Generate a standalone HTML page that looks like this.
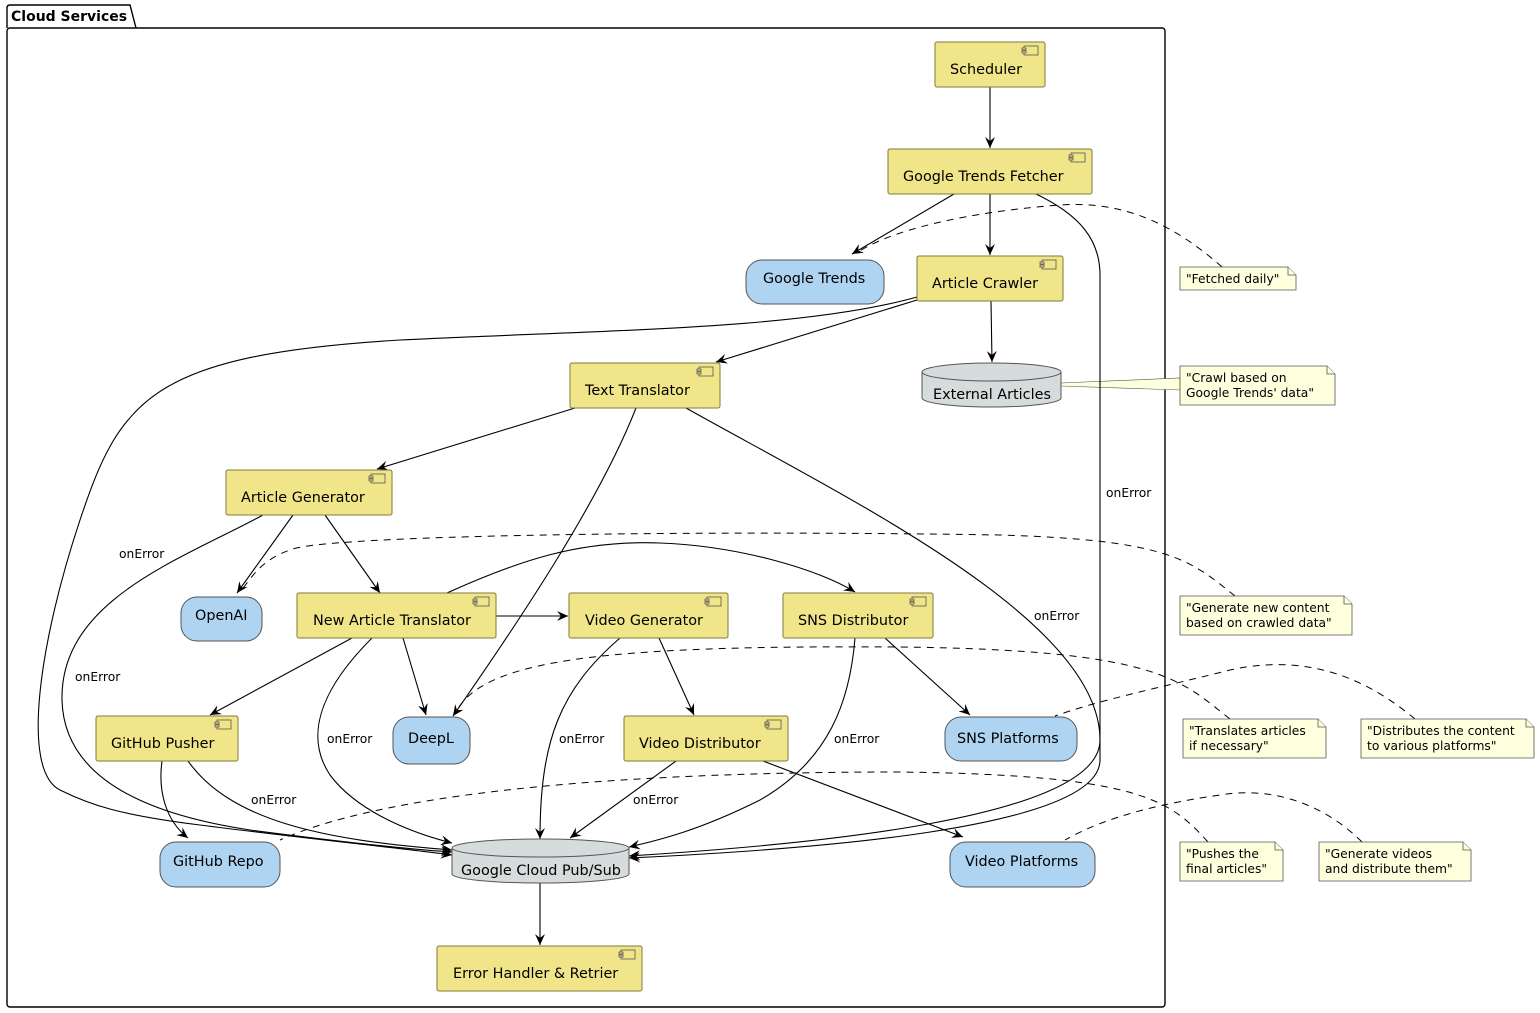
<!DOCTYPE html>
<html><head><meta charset="utf-8"><style>
html,body{margin:0;padding:0;background:#fff}
svg{display:block}
text{font-family:"DejaVu Sans","Liberation Sans",sans-serif}
.c{font-size:14.4px;fill:#000}
.l{font-size:12.3px;fill:#000}
.box{fill:#F1E58A;stroke:#7f7a3a;stroke-width:1}
.cl{fill:#AFD4F1;stroke:#555;stroke-width:1}
.db{fill:#D6DBDB;stroke:#555;stroke-width:1}
.e{fill:none;stroke:#000;stroke-width:1.1}
.d{fill:none;stroke:#000;stroke-width:1;stroke-dasharray:7,6}
.n{fill:#FEFFDD;stroke:#555;stroke-width:0.8}
</style></head><body>
<svg width="1540" height="1013" viewBox="0 0 1540 1013" xmlns="http://www.w3.org/2000/svg">
<defs>
<marker id="a" viewBox="0 0 12 10" refX="11" refY="5" markerWidth="12" markerHeight="10" orient="auto" markerUnits="userSpaceOnUse">
<path d="M0,0 L11,5 L0,10 L4,5 Z" fill="#000"/></marker>
<g id="ico"><rect x="2" y="0" width="14" height="9" fill="none" stroke="#555" stroke-width="0.8"/><rect x="0" y="2" width="4" height="2" fill="#F1E58A" stroke="#555" stroke-width="0.8"/><rect x="0" y="5" width="4" height="2" fill="#F1E58A" stroke="#555" stroke-width="0.8"/></g>
</defs>
<path d="M7,28 L7,8 Q7,5 10,5 L130,5 L136,28" fill="none" stroke="#000" stroke-width="1.4"/>
<rect x="7" y="28" width="1158" height="979" rx="3" fill="none" stroke="#000" stroke-width="1.4"/>
<text x="11" y="21" style="font-size:14px;font-weight:bold">Cloud Services</text>

<path class="d" d="M1222,267 C1180,230 1130,200 1060,205 C990,210 900,225 858,252"/>
<polygon points="1061,383 1180,378 1180,390 1061,386" fill="#FEFFDD" stroke="#555" stroke-width="0.6"/>
<path class="d" d="M1235,596 C1190,560 1170,540 1000,535 C700,530 320,535 290,550 C260,560 250,580 240,592"/>
<path class="d" d="M1230,719 C1180,680 1160,650 900,647 C600,645 480,660 455,714"/>
<path class="d" d="M1415,719 C1380,690 1320,650 1230,670 C1150,690 1100,700 1055,716"/>
<path class="d" d="M1208,842 C1170,800 1140,775 900,772 C600,772 380,795 280,840"/>
<path class="d" d="M1362,842 C1330,810 1280,785 1220,795 C1150,805 1100,820 1065,840"/>

<path class="e" marker-end="url(#a)" d="M990,87 L990,148"/>
<path class="e" marker-end="url(#a)" d="M954,194 L852,254"/>
<path class="e" marker-end="url(#a)" d="M990,194 L990,255"/>
<path class="e" marker-end="url(#a)" d="M1036,194 C1080,215 1100,240 1100,275 L1100,760 C1100,830 800,850 629,858"/>
<text class="l" x="1106" y="497">onError</text>
<path class="e" marker-end="url(#a)" d="M991,301 L992,362"/>
<path class="e" marker-end="url(#a)" d="M917,300 L716,362"/>
<path class="e" marker-end="url(#a)" d="M917,297 C800,330 600,330 400,340 C150,355 120,400 80,520 C40,640 20,770 60,790 C90,805 120,815 200,825 C300,838 400,848 452,855"/>
<text class="l" x="119" y="558">onError</text>
<path class="e" marker-end="url(#a)" d="M575,408 L377,469"/>
<path class="e" marker-end="url(#a)" d="M636,408 C600,500 520,620 453,716"/>
<path class="e" marker-end="url(#a)" d="M686,408 C850,500 1100,620 1100,740 C1100,820 800,845 629,856"/>
<text class="l" x="1034" y="620">onError</text>
<path class="e" marker-end="url(#a)" d="M293,515 L237,593"/>
<path class="e" marker-end="url(#a)" d="M325,515 L380,593"/>
<path class="e" marker-end="url(#a)" d="M263,515 C180,560 60,600 62,700 C64,780 150,815 250,830 C350,843 420,850 452,852"/>
<text class="l" x="75" y="681">onError</text>
<path class="e" marker-end="url(#a)" d="M447,593 C520,560 580,540 660,543 C740,546 820,570 855,592"/>
<path class="e" marker-end="url(#a)" d="M496,616 L568,616"/>
<path class="e" marker-end="url(#a)" d="M352,638 L210,715"/>
<path class="e" marker-end="url(#a)" d="M403,638 L426,715"/>
<path class="e" marker-end="url(#a)" d="M372,638 C330,680 300,730 330,775 C360,815 420,835 452,843"/>
<text class="l" x="327" y="743">onError</text>
<path class="e" marker-end="url(#a)" d="M659,638 L694,715"/>
<path class="e" marker-end="url(#a)" d="M620,638 C560,690 540,740 540,839"/>
<text class="l" x="559" y="743">onError</text>
<path class="e" marker-end="url(#a)" d="M885,638 L970,715"/>
<path class="e" marker-end="url(#a)" d="M855,638 C850,700 830,760 760,800 C700,830 660,840 629,847"/>
<text class="l" x="834" y="743">onError</text>
<path class="e" marker-end="url(#a)" d="M162,761 C158,790 165,820 188,838"/>
<path class="e" marker-end="url(#a)" d="M188,761 C230,820 320,840 452,850"/>
<text class="l" x="251" y="804">onError</text>
<path class="e" marker-end="url(#a)" d="M676,761 L570,838"/>
<text class="l" x="633" y="804">onError</text>
<path class="e" marker-end="url(#a)" d="M763,761 L963,837"/>
<path class="e" marker-end="url(#a)" d="M540,883 L540,945"/>

<rect class="box" x="935" y="42" width="110" height="45" rx="2"/><use href="#ico" x="1022" y="46"/><text class="c" x="950" y="74">Scheduler</text>
<rect class="box" x="888" y="149" width="204" height="45" rx="2"/><use href="#ico" x="1069" y="153"/><text class="c" x="903" y="181">Google Trends Fetcher</text>
<rect class="box" x="917" y="256" width="146" height="45" rx="2"/><use href="#ico" x="1040" y="260"/><text class="c" x="932" y="288">Article Crawler</text>
<rect class="box" x="570" y="363" width="150" height="45" rx="2"/><use href="#ico" x="697" y="367"/><text class="c" x="585" y="395">Text Translator</text>
<rect class="box" x="226" y="470" width="166" height="45" rx="2"/><use href="#ico" x="369" y="474"/><text class="c" x="241" y="502">Article Generator</text>
<rect class="box" x="297" y="593" width="199" height="45" rx="2"/><use href="#ico" x="473" y="597"/><text class="c" x="313" y="625">New Article Translator</text>
<rect class="box" x="569" y="593" width="159" height="45" rx="2"/><use href="#ico" x="705" y="597"/><text class="c" x="585" y="625">Video Generator</text>
<rect class="box" x="783" y="593" width="150" height="45" rx="2"/><use href="#ico" x="910" y="597"/><text class="c" x="798" y="625">SNS Distributor</text>
<rect class="box" x="96" y="716" width="142" height="45" rx="2"/><use href="#ico" x="215" y="720"/><text class="c" x="111" y="748">GitHub Pusher</text>
<rect class="box" x="624" y="716" width="164" height="45" rx="2"/><use href="#ico" x="765" y="720"/><text class="c" x="639" y="748">Video Distributor</text>
<rect class="box" x="437" y="946" width="205" height="45" rx="2"/><use href="#ico" x="619" y="950"/><text class="c" x="453" y="978">Error Handler &amp; Retrier</text>

<rect class="cl" x="746" y="260" width="138" height="44" rx="16"/><text class="c" x="763" y="283">Google Trends</text>
<rect class="cl" x="181" y="597" width="81" height="44" rx="16"/><text class="c" x="195" y="620">OpenAI</text>
<rect class="cl" x="393" y="717" width="77" height="47" rx="16"/><text class="c" x="408" y="743">DeepL</text>
<rect class="cl" x="945" y="717" width="132" height="44" rx="16"/><text class="c" x="957" y="743">SNS Platforms</text>
<rect class="cl" x="160" y="842" width="120" height="45" rx="16"/><text class="c" x="173" y="866">GitHub Repo</text>
<rect class="cl" x="950" y="842" width="145" height="45" rx="16"/><text class="c" x="965" y="866">Video Platforms</text>

<path class="db" d="M922,372 A69.5,9 0 0 1 1061,372 L1061,398 A69.5,9 0 0 1 922,398 Z"/><path class="db" d="M922,372 A69.5,9 0 0 0 1061,372" fill="none"/><text class="c" x="933" y="399">External Articles</text>
<path class="db" d="M452,848 A88.5,9 0 0 1 629,848 L629,874 A88.5,9 0 0 1 452,874 Z"/><path class="db" d="M452,848 A88.5,9 0 0 0 629,848" fill="none"/><text class="c" x="461" y="875">Google Cloud Pub/Sub</text>

<path class="n" d="M1180,267 L1288,267 L1296,275 L1296,290 L1180,290 Z"/><path class="n" d="M1288,267 L1288,275 L1296,275"/><text class="l" x="1186" y="283">"Fetched daily"</text>
<path class="n" d="M1180,366 L1327,366 L1335,374 L1335,405 L1180,405 Z"/><path class="n" d="M1327,366 L1327,374 L1335,374"/><text class="l" x="1186" y="382">"Crawl based on</text><text class="l" x="1186" y="397">Google Trends' data"</text>
<path class="n" d="M1180,596 L1344,596 L1352,604 L1352,635 L1180,635 Z"/><path class="n" d="M1344,596 L1344,604 L1352,604"/><text class="l" x="1186" y="612">"Generate new content</text><text class="l" x="1186" y="627">based on crawled data"</text>
<path class="n" d="M1183,719 L1318,719 L1326,727 L1326,758 L1183,758 Z"/><path class="n" d="M1318,719 L1318,727 L1326,727"/><text class="l" x="1189" y="735">"Translates articles</text><text class="l" x="1189" y="750">if necessary"</text>
<path class="n" d="M1361,719 L1526,719 L1534,727 L1534,758 L1361,758 Z"/><path class="n" d="M1526,719 L1526,727 L1534,727"/><text class="l" x="1367" y="735">"Distributes the content</text><text class="l" x="1367" y="750">to various platforms"</text>
<path class="n" d="M1180,842 L1275,842 L1283,850 L1283,881 L1180,881 Z"/><path class="n" d="M1275,842 L1275,850 L1283,850"/><text class="l" x="1186" y="858">"Pushes the</text><text class="l" x="1186" y="873">final articles"</text>
<path class="n" d="M1319,842 L1463,842 L1471,850 L1471,881 L1319,881 Z"/><path class="n" d="M1463,842 L1463,850 L1471,850"/><text class="l" x="1325" y="858">"Generate videos</text><text class="l" x="1325" y="873">and distribute them"</text>
</svg>
</body></html>
